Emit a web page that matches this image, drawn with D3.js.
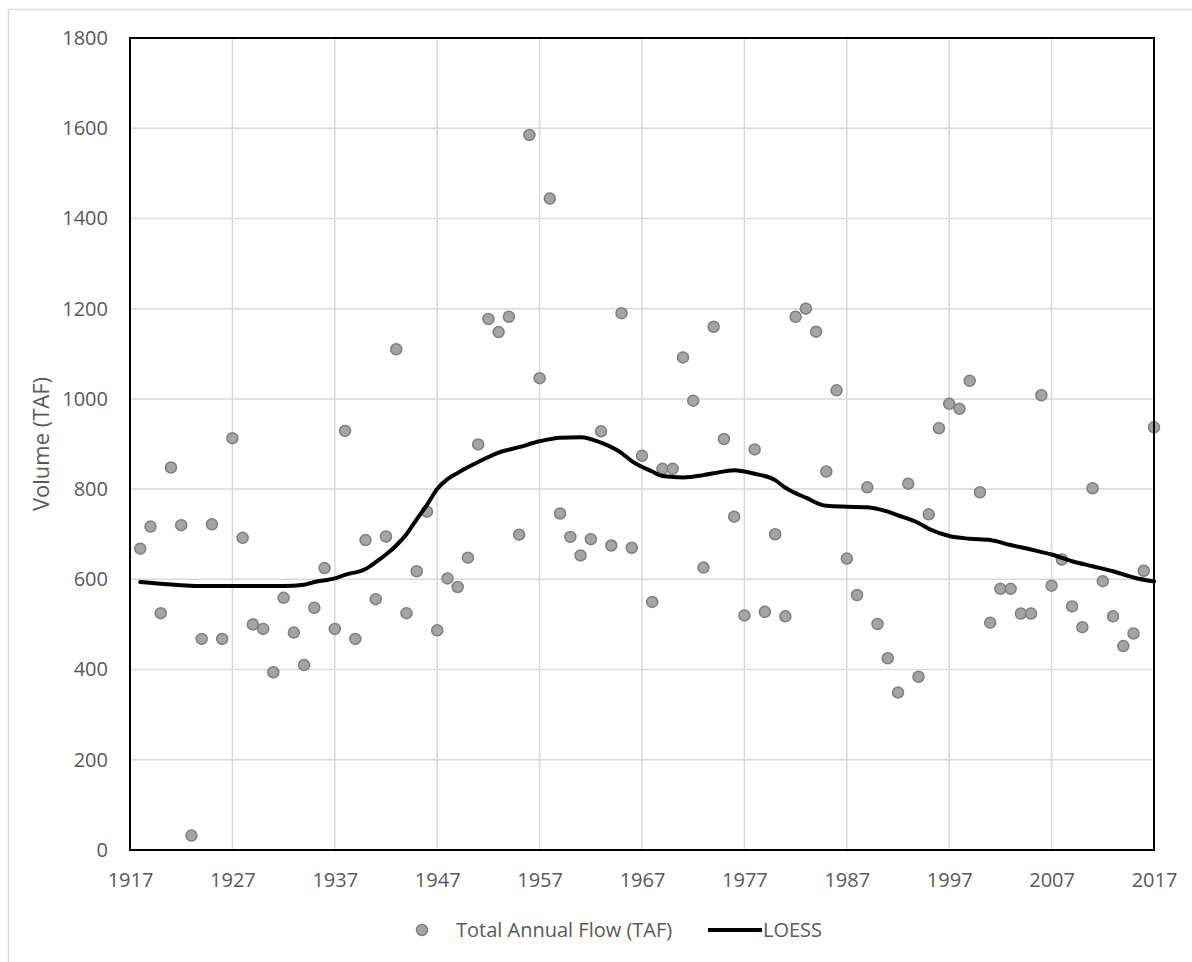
<!DOCTYPE html>
<html>
<head>
<meta charset="utf-8">
<script src="https://cdn.jsdelivr.net/npm/d3@7"></script>
<style>
  html, body { margin: 0; padding: 0; background: #fff; }
  svg { display: block; }
  text { font-family: "Open Sans", "Liberation Sans", sans-serif; fill: #595959; }
</style>
</head>
<body>
<svg id="chart" width="1192" height="962"></svg>
<script>
// ---- Data ----
const years = d3.range(1918, 2018);
const flow = [
  668, 717, 525, 848, 720, 32, 468, 722, 468, 913,
  692, 500, 490, 394, 559, 482, 410, 537, 625, 490,
  929, 468, 687, 556, 695, 1110, 525, 618, 750, 487,
  602, 583, 648, 899, 1177, 1148, 1182, 699, 1585, 1046,
  1444, 746, 694, 653, 689, 928, 675, 1190, 670, 874,
  550, 845, 845, 1092, 996, 626, 1160, 911, 739, 520,
  888, 528, 700, 518, 1182, 1200, 1149, 839, 1019, 646,
  565, 804, 501, 425, 349, 812, 384, 744, 935, 989,
  978, 1040, 793, 504, 579, 579, 524, 524, 1008, 586,
  644, 540, 494, 802, 596, 518, 452, 480, 619, 937
];
const loessYears = [1918, 1920, 1922, 1924, 1926, 1928, 1930, 1932, 1934, 1935, 1937, 1938, 1940, 1941, 1942, 1943, 1944, 1945, 1946, 1947, 1948, 1949, 1951, 1953, 1955, 1957, 1959, 1961, 1963, 1965, 1966, 1968, 1969, 1971, 1973, 1974, 1976, 1977, 1978, 1980, 1981, 1983, 1985, 1987, 1989, 1991, 1992, 1994, 1995, 1997, 1999, 2001, 2003, 2005, 2007, 2009, 2011, 2013, 2015, 2017];
const loessValues = [594, 590, 587, 585, 585, 585, 585, 585, 588, 594, 602, 610, 623, 638, 655, 675, 700, 733, 765, 800, 822, 836, 860, 881, 893, 906, 914, 915, 903, 880, 862, 839, 829, 826, 831, 835, 842, 839, 834, 820, 803, 781, 763, 761, 760, 750, 742, 725, 712, 696, 690, 687, 676, 666, 655, 640, 629, 618, 604, 595];
const xTicks = [1917, 1927, 1937, 1947, 1957, 1967, 1977, 1987, 1997, 2007, 2017];
const yTicks = [0, 200, 400, 600, 800, 1000, 1200, 1400, 1600, 1800];
const seriesNames = ["Total Annual Flow (TAF)", "LOESS"];
const yTitle = "Volume (TAF)";

// ---- Layout ----
const svg = d3.select("#chart");
const L = 130, R = 1154, T = 38, B = 850;
const x = d3.scaleLinear().domain([1917, 2017]).range([L, R]);
const y = d3.scaleLinear().domain([0, 1800]).range([B, T]);
const font = '"Open Sans", "Liberation Sans", sans-serif';

// outer frame
svg.append("rect").attr("x", 8.5).attr("y", 9.5).attr("width", 1200).attr("height", 1000)
  .attr("fill", "none").attr("stroke", "#d9d9d9").attr("stroke-width", 1.5);

// gridlines
svg.append("g").selectAll("line").data(yTicks).join("line")
  .attr("x1", L).attr("x2", R).attr("y1", d => y(d)).attr("y2", d => y(d))
  .attr("stroke", "#d9d9d9").attr("stroke-width", 1.5);
svg.append("g").selectAll("line").data(xTicks).join("line")
  .attr("y1", T).attr("y2", B).attr("x1", d => x(d)).attr("x2", d => x(d))
  .attr("stroke", "#d9d9d9").attr("stroke-width", 1.5);

// axes labels via d3 axes
const yAxis = svg.append("g").attr("transform", `translate(${L},0)`)
  .call(d3.axisLeft(y).tickValues(yTicks).tickSize(0).tickPadding(22).tickFormat(d3.format("d")));
yAxis.select(".domain").remove();
yAxis.selectAll("text").attr("font-size", 20).attr("fill", "#595959").style("font-family", font);

const xAxis = svg.append("g").attr("transform", `translate(0,${B})`)
  .call(d3.axisBottom(x).tickValues(xTicks).tickSize(0).tickPadding(0).tickFormat(d3.format("d")));
xAxis.select(".domain").remove();
xAxis.selectAll("text").attr("dy", null).attr("y", 37).attr("font-size", 20)
  .attr("fill", "#595959").style("font-family", font);

// y title
svg.append("text").attr("transform", `translate(49,${(T + B) / 2}) rotate(-90)`)
  .attr("text-anchor", "middle").attr("font-size", 22).text(yTitle);

// points
svg.append("g").selectAll("circle").data(years.map((yr, i) => [yr, flow[i]])).join("circle")
  .attr("cx", d => x(d[0])).attr("cy", d => y(d[1])).attr("r", 5.5)
  .attr("fill", "#a5a3a3").attr("stroke", "#7f7f7f").attr("stroke-width", 1.5);

// LOESS line
const line = d3.line().x(d => x(d[0])).y(d => y(d[1])).curve(d3.curveMonotoneX);
svg.append("path").datum(loessYears.map((yr, i) => [yr, loessValues[i]]))
  .attr("d", line).attr("fill", "none").attr("stroke", "#000").attr("stroke-width", 4)
  .attr("stroke-linecap", "round").attr("stroke-linejoin", "round");

// plot border
svg.append("rect").attr("x", L).attr("y", T).attr("width", R - L).attr("height", B - T)
  .attr("fill", "none").attr("stroke", "#000").attr("stroke-width", 2);

// legend
const ly = 930;
const lg = svg.append("g");
lg.append("circle").attr("cx", 422).attr("cy", ly).attr("r", 5.5)
  .attr("fill", "#a5a3a3").attr("stroke", "#7f7f7f").attr("stroke-width", 1.5);
lg.append("text").attr("x", 456).attr("y", ly + 7).attr("font-size", 20).text(seriesNames[0]);
lg.append("line").attr("x1", 708).attr("x2", 762).attr("y1", ly).attr("y2", ly)
  .attr("stroke", "#000").attr("stroke-width", 4);
lg.append("text").attr("x", 763).attr("y", ly + 7).attr("font-size", 20).text(seriesNames[1]);
</script>
</body>
</html>
